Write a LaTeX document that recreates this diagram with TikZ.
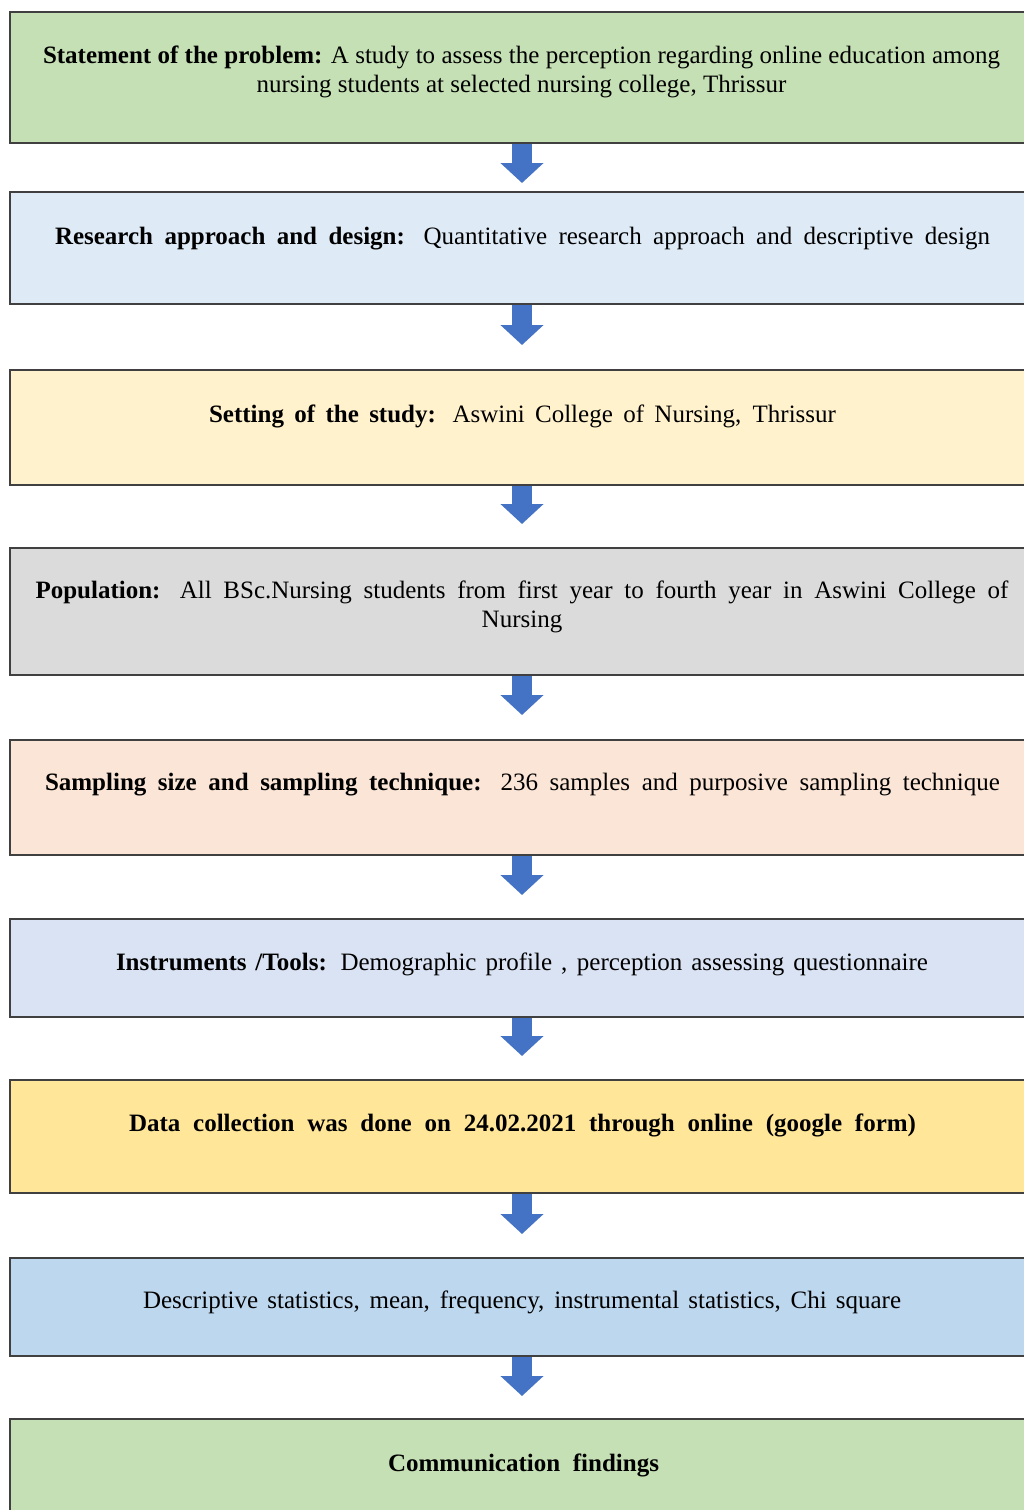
\documentclass[tikz,border=0pt]{standalone}
\usepackage{fontspec}
\setmainfont{Liberation Serif}
\usetikzlibrary{arrows.meta}

\definecolor{boxline}{HTML}{404040}
\definecolor{arrowblue}{HTML}{4472C4}
\definecolor{fillgreen}{HTML}{C5E0B4}
\definecolor{fillsky}{HTML}{DEEBF7}
\definecolor{fillcream}{HTML}{FFF2CC}
\definecolor{fillgrey}{HTML}{DBDBDB}
\definecolor{fillpeach}{HTML}{FBE5D6}
\definecolor{fillslate}{HTML}{DAE3F3}
\definecolor{fillgold}{HTML}{FFE699}
\definecolor{fillblue}{HTML}{BDD7EE}

\begin{document}
\begin{tikzpicture}[x=0.5pt, y=-0.5pt,
    stepbox/.style={draw=boxline, line width=1pt, anchor=north west,
      minimum width=520pt, inner sep=0pt},
    steptext/.style={anchor=base, inner sep=0pt, align=center,
      font=\fontsize{12.5}{14.5}\selectfont},
    flowarrow/.style={draw=arrowblue, fill=arrowblue, line width=10pt,
      -{Triangle[width=21pt,length=10pt]}}]
  \useasboundingbox (0,0) rectangle (1023,1510);

  % Riquadri delle fasi
  \node[stepbox, fill=fillgreen, minimum height=65.5pt] (b1) at (9,11) {};
  \node[stepbox, fill=fillsky,   minimum height=56pt]   (b2) at (9,191) {};
  \node[stepbox, fill=fillcream, minimum height=57.5pt] (b3) at (9,369) {};
  \node[stepbox, fill=fillgrey,  minimum height=63.5pt] (b4) at (9,547) {};
  \node[stepbox, fill=fillpeach, minimum height=57.5pt] (b5) at (9,739) {};
  \node[stepbox, fill=fillslate, minimum height=49pt]   (b6) at (9,918) {};
  \node[stepbox, fill=fillgold,  minimum height=56.5pt] (b7) at (9,1079) {};
  \node[stepbox, fill=fillblue,  minimum height=49pt]   (b8) at (9,1257) {};
  \node[stepbox, fill=fillgreen, minimum height=60pt]   (b9) at (9,1418) {};

  % Testi
  \node[steptext] (t1) at (521.5,92) {\makebox[478.5pt][s]{\textbf{Statement of the problem:} A study to assess the perception regarding online education among}\\nursing students at selected nursing college, Thrissur};
  \node[steptext] (t2) at (522.5,244) {\makebox[467.5pt][s]{\textbf{Research approach and design:} Quantitative research approach and descriptive design}};
  \node[steptext] (t3) at (522.5,422) {\makebox[313.5pt][s]{\textbf{Setting of the study:} Aswini College of Nursing, Thrissur}};
  \node[steptext] (t4) at (522,627) {\makebox[486.5pt][s]{\textbf{Population:} All BSc.Nursing students from first year to fourth year in Aswini College of}\\Nursing};
  \node[steptext] (t5) at (522.5,790) {\makebox[477.5pt][s]{\textbf{Sampling size and sampling technique:} 236 samples and purposive sampling technique}};
  \node[steptext] (t6) at (522,970) {\makebox[406pt][s]{\textbf{Instruments /Tools:} Demographic profile , perception assessing questionnaire}};
  \node[steptext] (t7) at (522.5,1131) {\makebox[393.5pt][s]{\textbf{Data collection was done on 24.02.2021 through online (google form)}}};
  \node[steptext] (t8) at (522,1308) {\makebox[379pt][s]{Descriptive statistics, mean, frequency, instrumental statistics, Chi square}};
  \node[steptext] (t9) at (523.5,1471) {\makebox[135.5pt][s]{\textbf{Communication findings}}};

  % Frecce tra le fasi
  \coordinate (axis) at (522,0);
  \foreach \a/\b/\gap in {b1/b2/4pt, b2/b3/12pt, b3/b4/11.5pt, b4/b5/12pt,
      b5/b6/11.5pt, b6/b7/11.5pt, b7/b8/11.5pt, b8/b9/11pt}
    \draw[flowarrow, shorten >=\gap] (\a.south -| axis) -- (\b.north -| axis);
\end{tikzpicture}
\end{document}
